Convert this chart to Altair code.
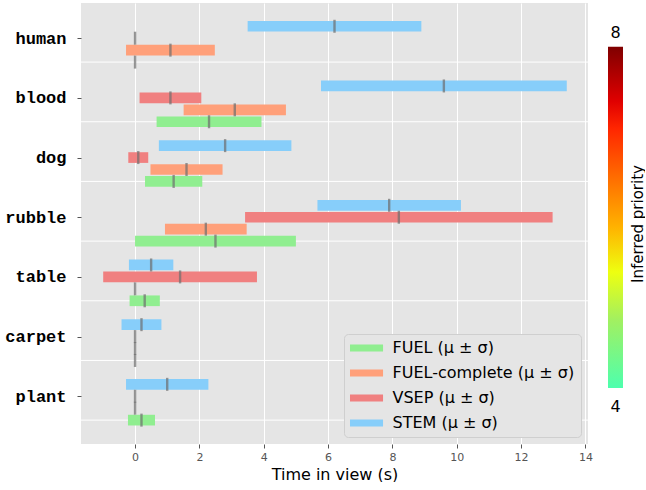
import json
import altair as alt
import pandas as pd

categories = ["human", "blood", "dog", "rubble", "table", "carpet", "plant"]
methods = ["STEM", "VSEP", "FUEL-complete", "FUEL"]          # top to bottom inside a group
legend_order = ["FUEL", "FUEL-complete", "VSEP", "STEM"]
legend_colors = ["#90EE90", "#FFA07A", "#F08080", "#87CEFA"]
row_offsets = [-0.2, 0.0, 0.2, 0.4]

stem_mean = [6.2, 9.6, 2.8, 7.9, 0.5, 0.2, 1.0]
stem_sd = [2.7, 3.82, 2.06, 2.23, 0.69, 0.62, 1.28]
vsep_mean = [0.0, 1.1, 0.1, 8.2, 1.4, 0.0, 0.0]
vsep_sd = [0.0, 0.96, 0.31, 4.78, 2.39, 0.0, 0.0]
fc_mean = [1.1, 3.1, 1.6, 2.2, 0.0, 0.0, 0.0]
fc_sd = [1.38, 1.59, 1.12, 1.27, 0.0, 0.0, 0.0]
fuel_mean = [0.0, 2.3, 1.2, 2.5, 0.3, 0.0, 0.2]
fuel_sd = [0.0, 1.63, 0.89, 2.5, 0.47, 0.0, 0.42]

x_ticks = [0, 2, 4, 6, 8, 10, 12, 14]
priority_range = [4, 8]
priority_label = "Inferred priority"

means = {"STEM": stem_mean, "VSEP": vsep_mean, "FUEL-complete": fc_mean, "FUEL": fuel_mean}
sds = {"STEM": stem_sd, "VSEP": vsep_sd, "FUEL-complete": fc_sd, "FUEL": fuel_sd}

rows = []
for ci, cat in enumerate(categories):
    for m, off in zip(methods, row_offsets):
        mu = means[m][ci]
        sd = sds[m][ci]
        rows.append({"category": cat, "method": m, "pos": ci + off,
                     "mean": mu, "lo": mu - sd, "hi": mu + sd})
df = pd.DataFrame(rows)
grid_df = pd.DataFrame({"g": [i + 0.4 for i in range(len(categories))]})

x_scale = alt.Scale(domain=[-1.68, 14.08], nice=False, zero=False)
y_scale = alt.Scale(domain=[-0.59, 6.80], reverse=True, nice=False, zero=False)

label_expr = json.dumps(categories).replace('"', "'") + "[datum.value]"

y_axis = alt.Axis(values=list(range(len(categories))), labelExpr=label_expr, grid=False,
                  domain=False, ticks=True, tickSize=4, tickColor="#555555",
                  labelFont="Liberation Mono", labelFontWeight="bold", labelFontSize=17,
                  labelColor="black", labelPadding=11, minExtent=75, maxExtent=75, title=None)
x_axis = alt.Axis(values=x_ticks, grid=True, gridColor="white", gridWidth=1, domain=False,
                  tickSize=4, tickColor="#555555", labelFontSize=11, labelColor="#555555",
                  labelFont="DejaVu Sans", labelPadding=3,
                  title="Time in view (s)", titleFont="DejaVu Sans", titleFontSize=16,
                  titleFontWeight="normal", titleColor="black", titlePadding=4)

gridlines = alt.Chart(grid_df).mark_rule(color="white", strokeWidth=1).encode(
    y=alt.Y("g:Q", scale=y_scale, axis=y_axis)
)

bars = alt.Chart(df).mark_rule(strokeWidth=10.7, strokeCap="butt").encode(
    x=alt.X("lo:Q", scale=x_scale, axis=x_axis),
    x2="hi:Q",
    y=alt.Y("pos:Q", scale=y_scale, axis=y_axis),
    color=alt.Color("method:N",
                    scale=alt.Scale(domain=legend_order, range=legend_colors),
                    legend=alt.Legend(title=None, orient="bottom-right", offset=7,
                                      symbolType="stroke", symbolSize=1450,
                                      symbolStrokeWidth=7, clipHeight=16, rowPadding=9,
                                      symbolOffset=-9,
                                      labelExpr="datum.label + ' (μ ± σ)'",
                                      labelFont="DejaVu Sans", labelFontSize=16,
                                      labelColor="black", labelOffset=5.5, labelLimit=400,
                                      padding=6,
                                      fillColor="#E5E5E5", strokeColor="#CFCFCF",
                                      cornerRadius=4)),
)

ticks = alt.Chart(df).mark_tick(orient="vertical", thickness=2.4, size=13,
                                color="#6E6E6E").encode(
    x=alt.X("mean:Q", scale=x_scale),
    y=alt.Y("pos:Q", scale=y_scale),
)

main = alt.layer(gridlines, bars, ticks).properties(
    width=507, height=441,
    view=alt.ViewBackground(fill="#E5E5E5", strokeWidth=0),
)

cb_df = pd.DataFrame({"lo": [priority_range[0]], "hi": [priority_range[1]]})
cb_labels = pd.DataFrame({"v": priority_range, "t": [str(v) for v in priority_range]})
cb_scale = alt.Scale(domain=[3.344, 8.512], nice=False, zero=False)

gradient = {
    "gradient": "linear", "x1": 0, "y1": 1, "x2": 0, "y2": 0,
    "stops": [
        {"offset": 0.0, "color": "#4DFFAE"},
        {"offset": 0.2, "color": "#A2F060"},
        {"offset": 0.34, "color": "#EEFF10"},
        {"offset": 0.47, "color": "#FFB300"},
        {"offset": 0.61, "color": "#FF7000"},
        {"offset": 0.76, "color": "#FF2600"},
        {"offset": 0.84, "color": "#E00000"},
        {"offset": 1.0, "color": "#7F0000"},
    ],
}

cb_rect = alt.Chart(cb_df).mark_rect(color=gradient).encode(
    x=alt.value(0), x2=alt.value(15),
    y=alt.Y("lo:Q", scale=cb_scale,
            axis=alt.Axis(orient="right", labels=False, ticks=False, domain=False,
                          grid=False, title=priority_label, titleAngle=270,
                          titleBaseline="top",
                          titleFont="DejaVu Sans", titleFontSize=15,
                          titleFontWeight="normal", titleColor="black",
                          titlePadding=7)),
    y2="hi:Q",
)
cb_top = alt.Chart(cb_labels[cb_labels.v == priority_range[1]]).mark_text(
    baseline="bottom", dy=-6, fontSize=16, font="DejaVu Sans", color="black").encode(
    x=alt.value(7.5), y=alt.Y("v:Q", scale=cb_scale), text="t:N")
cb_bot = alt.Chart(cb_labels[cb_labels.v == priority_range[0]]).mark_text(
    baseline="top", dy=11, fontSize=16, font="DejaVu Sans", color="black").encode(
    x=alt.value(7.5), y=alt.Y("v:Q", scale=cb_scale), text="t:N")

colorbar = alt.layer(cb_rect, cb_top, cb_bot).properties(
    width=15, height=441,
    view=alt.ViewBackground(fill="transparent", strokeWidth=0),
)

chart = alt.hconcat(main, colorbar, spacing=20, bounds="flush").properties(
    padding={"left": 4, "top": 3, "right": 0, "bottom": 0},
    background="white",
).configure_view(strokeWidth=0).resolve_scale(color="independent")

chart.save("out.html", embed_options={"renderer": "svg", "actions": False})
